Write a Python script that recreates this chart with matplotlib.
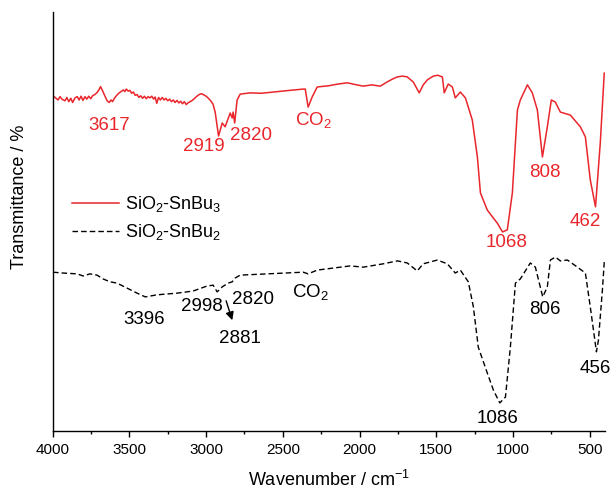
import numpy as np
import matplotlib
matplotlib.use('Agg')
import matplotlib.pyplot as plt

plt.rcParams['font.family'] = ['Liberation Sans', 'DejaVu Sans']
plt.rcParams['mathtext.fontset'] = 'custom'
plt.rcParams['mathtext.rm'] = 'Liberation Sans'
plt.rcParams['mathtext.it'] = 'Liberation Sans:italic'
plt.rcParams['mathtext.default'] = 'regular'

# FTIR spectra (wavenumber in cm-1, transmittance in arbitrary offset units)
wn_sn3 = [3998, 3982, 3965, 3952, 3940, 3920, 3908, 3895, 3882, 3870, 3855, 3840,
          3828, 3815, 3803, 3790, 3778, 3765, 3752, 3740, 3725, 3710, 3697, 3688,
          3680, 3670, 3658, 3645, 3632, 3620, 3610, 3598, 3585, 3570, 3555, 3540,
          3530, 3520, 3508, 3497, 3485, 3474, 3462, 3450, 3438, 3426, 3414, 3402,
          3390, 3378, 3366, 3354, 3342, 3332, 3322, 3310, 3298, 3286, 3274, 3262,
          3250, 3238, 3226, 3214, 3202, 3190, 3178, 3166, 3154, 3142, 3130, 3118,
          3104, 3090, 3075, 3060, 3045, 3030, 3015, 3000, 2985, 2970, 2955, 2941,
          2919, 2895, 2876, 2843, 2830, 2824, 2814, 2798, 2778, 2713, 2640, 2563,
          2480, 2400, 2367, 2354, 2335, 2309, 2276, 2200, 2140, 2080, 2030, 1976,
          1920, 1865, 1820, 1785, 1754, 1720, 1689, 1650, 1611, 1585, 1558, 1519,
          1490, 1460, 1448, 1422, 1395, 1376, 1343, 1310, 1265, 1232, 1212, 1167,
          1102, 1068, 1037, 1004, 971, 952, 906, 874, 841, 808, 776, 750, 724, 691,
          626, 561, 528, 496, 462, 431, 405]
tr_sn3 = [80.0, 79.5, 79.0, 79.8, 79.2, 78.8, 79.6, 78.6, 79.4, 78.4, 79.5, 79.8,
          79.0, 79.9, 78.9, 79.8, 79.2, 79.9, 79.3, 80.0, 80.3, 80.8, 81.5, 82.2,
          81.6, 80.8, 79.8, 78.8, 78.4, 79.0, 78.6, 79.4, 80.0, 80.6, 81.0, 81.4,
          81.0, 81.6, 81.1, 81.3, 80.6, 80.9, 80.1, 80.3, 79.6, 80.0, 79.4, 79.9,
          79.3, 79.8, 79.5, 79.9, 79.2, 79.7, 78.2, 79.6, 79.0, 79.6, 79.0, 79.4,
          78.8, 79.2, 78.6, 79.0, 78.4, 78.9, 78.3, 78.7, 78.1, 78.6, 77.9, 78.3,
          78.6, 78.9, 79.4, 79.9, 80.3, 80.5, 80.2, 79.9, 79.4, 78.8, 78.0, 76.1,
          70.4, 73.5, 72.6, 75.9, 74.7, 76.1, 73.5, 79.0, 80.4, 80.7, 80.6, 80.9,
          81.2, 81.5, 81.6, 81.6, 77.3, 79.7, 82.1, 82.4, 82.8, 83.1, 82.7, 82.3,
          82.6, 82.3, 83.3, 84.0, 84.5, 84.7, 84.5, 83.3, 80.7, 82.6, 83.8, 84.7,
          84.9, 84.5, 80.7, 82.8, 82.1, 79.5, 80.9, 79.5, 74.2, 65.4, 56.8, 52.7,
          49.6, 47.5, 48.0, 56.8, 76.6, 79.0, 82.6, 80.7, 76.6, 65.4, 72.6, 79.0,
          78.5, 76.1, 75.4, 72.6, 70.2, 59.9, 53.5, 68.7, 85.4]

wn_sn2 = [3998, 3933, 3841, 3802, 3757, 3711, 3672, 3626, 3581, 3515, 3450, 3396,
          3320, 3189, 3085, 2994, 2954, 2928, 2895, 2856, 2830, 2811, 2778, 2602,
          2367, 2335, 2276, 2061, 1976, 1845, 1754, 1689, 1624, 1585, 1493, 1428,
          1376, 1343, 1291, 1258, 1226, 1167, 1128, 1086, 1049, 1017, 984, 952,
          887, 854, 806, 776, 756, 724, 691, 645, 580, 528, 496, 456, 443, 417, 405]
tr_sn2 = [37.9, 37.7, 37.5, 37.0, 37.5, 37.2, 36.3, 35.6, 35.3, 34.1, 32.9, 32.0,
          32.5, 32.9, 33.4, 34.6, 34.8, 33.2, 34.4, 35.3, 35.6, 36.5, 37.2, 37.5,
          37.9, 37.5, 38.4, 39.4, 39.1, 39.9, 40.6, 40.1, 38.2, 39.9, 40.8, 39.9,
          37.7, 38.4, 35.6, 29.6, 20.0, 13.8, 9.8, 6.7, 8.1, 20.0, 35.3, 36.3,
          40.1, 39.1, 32.0, 34.4, 40.8, 41.5, 40.6, 40.8, 39.1, 37.7, 29.6, 18.9,
          21.7, 33.7, 40.3]

red = '#e8262b'

fig = plt.figure(figsize=(6.12, 4.91), dpi=100)
ax = fig.add_axes([0.0861, 0.1222, 0.9025, 0.8534])

ax.plot(wn_sn3, tr_sn3, color=red, lw=1.1, label='SiO$_2$-SnBu$_3$')
ax.plot(wn_sn2, tr_sn2, color='black', lw=1.0, dashes=(4, 2.2),
        label='SiO$_2$-SnBu$_2$')

ax.set_xlim(4000, 400)
ax.set_ylim(0, 100)
ax.set_xticks(np.arange(4000, 499, -500))
ax.set_xticks(np.arange(3750, 400, -500), minor=True)
ax.set_yticks([])
ax.tick_params(axis='x', which='major', direction='out', length=4, width=1,
               labelsize=11, pad=5)
ax.tick_params(axis='x', which='minor', direction='out', length=2.5, width=1)
for s in ['top', 'right']:
    ax.spines[s].set_visible(False)
for s in ['left', 'bottom']:
    ax.spines[s].set_linewidth(1.0)

ax.set_xlabel('Wavenumber / cm$^{-1}$', fontsize=13, labelpad=9)
ax.set_ylabel('Transmittance / %', fontsize=13)
ax.yaxis.set_label_coords(-0.045, 0.56)

# peak labels
fs = 13.5
for txt, x, y in [('3617', 3632, 72.8), ('2919', 3013, 67.8), ('2820', 2706, 70.6),
                  ('1068', 1043, 45.1), ('808', 789, 61.8), ('462', 528, 49.9)]:
    ax.text(x, y, txt, color=red, fontsize=fs, ha='center', va='center')
ax.text(2419, 74.2, 'CO$_2$', color=red, fontsize=fs, ha='left', va='center')

for txt, x, y in [('3396', 3404, 26.7), ('2998', 3026, 29.6), ('2820', 2693, 31.3),
                  ('2881', 2778, 22.0), ('806', 789, 28.9), ('456', 463, 14.8),
                  ('1086', 1101, 2.9)]:
    ax.text(x, y, txt, color='black', fontsize=fs, ha='center', va='center')
ax.text(2438, 33.2, 'CO$_2$', color='black', fontsize=fs, ha='left', va='center')
ax.annotate('', xy=(2824, 25.8), xytext=(2875, 31.7),
            arrowprops=dict(arrowstyle='-|>', color='black', lw=1,
                            mutation_scale=12))

ax.legend(loc='upper left', bbox_to_anchor=(0.035, 0.566), frameon=False,
          fontsize=13, handlelength=2.6, handletextpad=0.35,
          labelspacing=0.45, borderpad=0, borderaxespad=0)

fig.savefig('out.png', dpi=100)
